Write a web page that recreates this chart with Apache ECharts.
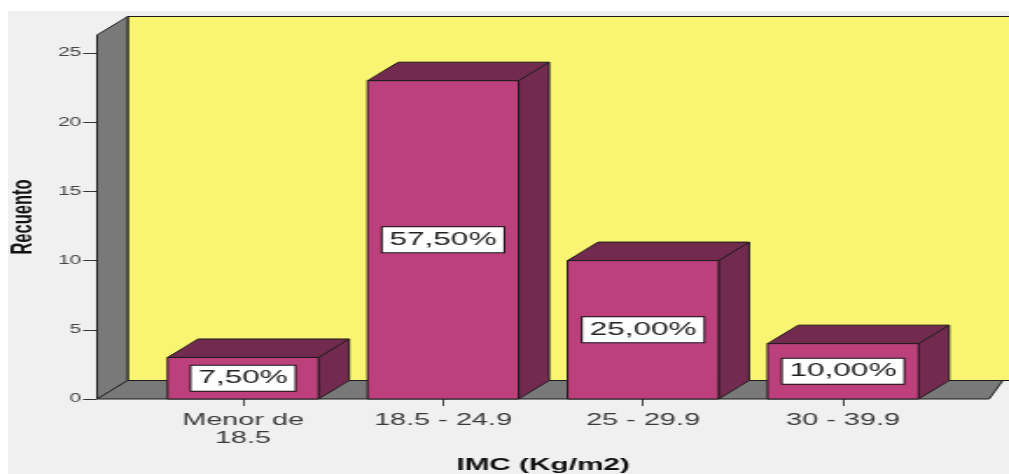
<!DOCTYPE html>
<html>
<head>
<meta charset="utf-8">
<script src="https://cdn.jsdelivr.net/npm/echarts@6/dist/echarts.min.js"></script>
<style>
  html, body { margin: 0; padding: 0; background: #ffffff; overflow: hidden; }
  #panel { position: absolute; left: 8px; top: 11px; right: 0; bottom: 0; background: #f0f0f0; }
  /* the chart is laid out narrow and stretched sideways, like the exported SPSS graphic */
  #chart { position: absolute; left: 0; top: 0; width: 577px; height: 474px;
           transform-origin: 0 0; transform: scaleX(1.7487); }
</style>
</head>
<body>
<div id="panel"></div>
<div id="chart"></div>
<script>
// IMC categories and their counts (Recuento)
const categories = ['Menor de\n18.5', '18.5 - 24.9', '25 - 29.9', '30 - 39.9'];
const counts = [3, 23, 10, 4];

// count axis ticks
const yMin = 0;
const yMax = 25;
const yInterval = 5;

const total = counts.reduce((a, b) => a + b, 0);
const pctLabel = v => (v / total * 100).toFixed(2).replace('.', ',') + '%';

const FONT = '"Liberation Sans", Arial, sans-serif';
const W = 577;
const GRID = { left: 81.8, right: 37.7, top: 53, bottom: 75 };
const BAND = (W - GRID.left - GRID.right) / categories.length;
const FLOOR_PAD = 0.23;          // floor reaches this fraction of a band past the outer bars
const AXIS_OFFSET = BAND * FLOOR_PAD;
const DX = 17.5, DY = 18.5;      // 3D depth
const WALL_RISE = 18;            // wall top above the highest tick
const BAR_RATIO = 0.755;

const FACE = '#bc407c';
const SHADE = '#722a4f';
const WALL = '#f9f472';
const SIDE = '#797979';
const EDGE = '#1c1c1c';

function renderRoom(params, api) {
  const cs = params.coordSys;
  const pad = api.size([1, 0])[0] * FLOOR_PAD;
  const left = cs.x - pad;
  const right = cs.x + cs.width + pad;
  const base = cs.y + cs.height;
  const top = cs.y - WALL_RISE;
  const edge = { stroke: EDGE, lineWidth: 1 };
  return {
    type: 'group',
    children: [
      { type: 'rect', shape: { x: left + DX, y: top - DY, width: 800, height: base - top },
        style: Object.assign({ fill: WALL }, edge) },
      { type: 'polygon', shape: { points: [[left, base], [left, top], [left + DX, top - DY], [left + DX, base - DY]] },
        style: Object.assign({ fill: SIDE }, edge) },
      { type: 'polygon', shape: { points: [[left, base], [right, base], [right + DX * 0.45, base - DY], [left + DX, base - DY]] },
        style: Object.assign({ fill: SIDE }, edge) }
    ]
  };
}

function renderBar(params, api) {
  const i = api.value(0);
  const v = api.value(1);
  const topPt = api.coord([i, v]);
  const basePt = api.coord([i, 0]);
  const w = api.size([1, 0])[0] * BAR_RATIO;
  const cx = topPt[0];
  const x0 = cx - w / 2, x1 = cx + w / 2;
  const yT = topPt[1], yB = basePt[1];
  const edge = { stroke: EDGE, lineWidth: 1 };
  return {
    type: 'group',
    children: [
      { type: 'polygon', shape: { points: [[x1, yT], [x1 + DX, yT - DY], [x1 + DX, yB - DY], [x1, yB]] },
        style: Object.assign({ fill: SHADE }, edge) },
      { type: 'polygon', shape: { points: [[x0, yT], [x0 + DX, yT - DY], [x1 + DX, yT - DY], [x1, yT]] },
        style: Object.assign({ fill: SHADE }, edge) },
      { type: 'rect', shape: { x: x0, y: yT, width: w, height: yB - yT },
        style: Object.assign({ fill: FACE }, edge) },
      { type: 'text', x: cx, y: (yT + yB) / 2,
        style: { text: pctLabel(v), align: 'center', verticalAlign: 'middle',
                 fontSize: 18, fontFamily: FONT, fill: '#222222',
                 backgroundColor: '#ffffff', borderColor: '#111111', borderWidth: 1,
                 padding: [4, 4, 3, 4] } }
    ]
  };
}

const chart = echarts.init(document.getElementById('chart'), null, { renderer: 'canvas' });
chart.setOption({
  backgroundColor: 'transparent',
  animation: false,
  grid: { left: GRID.left, right: GRID.right, top: GRID.top, bottom: GRID.bottom,
          containLabel: false, outerBoundsMode: 'none' },
  xAxis: {
    type: 'category',
    data: categories,
    boundaryGap: true,
    name: 'IMC (Kg/m2)',
    nameLocation: 'middle',
    nameGap: 58,
    nameTextStyle: { fontFamily: FONT, fontSize: 17, fontWeight: 'bold', color: '#111111' },
    axisLine: { show: false },
    axisTick: { show: true, alignWithLabel: true, length: 7, lineStyle: { color: '#444444', width: 1 } },
    axisLabel: { fontFamily: FONT, fontSize: 16.5, lineHeight: 18, color: '#3a3a3a', margin: 12, interval: 0 },
    splitLine: { show: false }
  },
  yAxis: {
    type: 'value',
    min: yMin,
    max: yMax,
    interval: yInterval,
    offset: AXIS_OFFSET,
    name: 'Recuento',
    nameLocation: 'middle',
    nameRotate: 90,
    nameGap: 34,
    nameTextStyle: { fontFamily: FONT, fontSize: 16.5, fontWeight: 'bold', color: '#111111', padding: [0, 0, 0, 18] },
    axisLine: { show: false },
    axisTick: { show: true, length: 8, lineStyle: { color: '#333333', width: 1 } },
    axisLabel: { fontFamily: FONT, fontSize: 12, color: '#444444', margin: 9 },
    splitLine: { show: false }
  },
  series: [
    { type: 'custom', name: 'room', clip: false, silent: true, data: [[0, 0]], renderItem: renderRoom, z: 1 },
    { type: 'custom', name: 'Recuento', clip: false, data: counts.map((c, i) => [i, c]),
      encode: { x: 0, y: 1 }, renderItem: renderBar, z: 2 }
  ]
});
</script>
</body>
</html>
